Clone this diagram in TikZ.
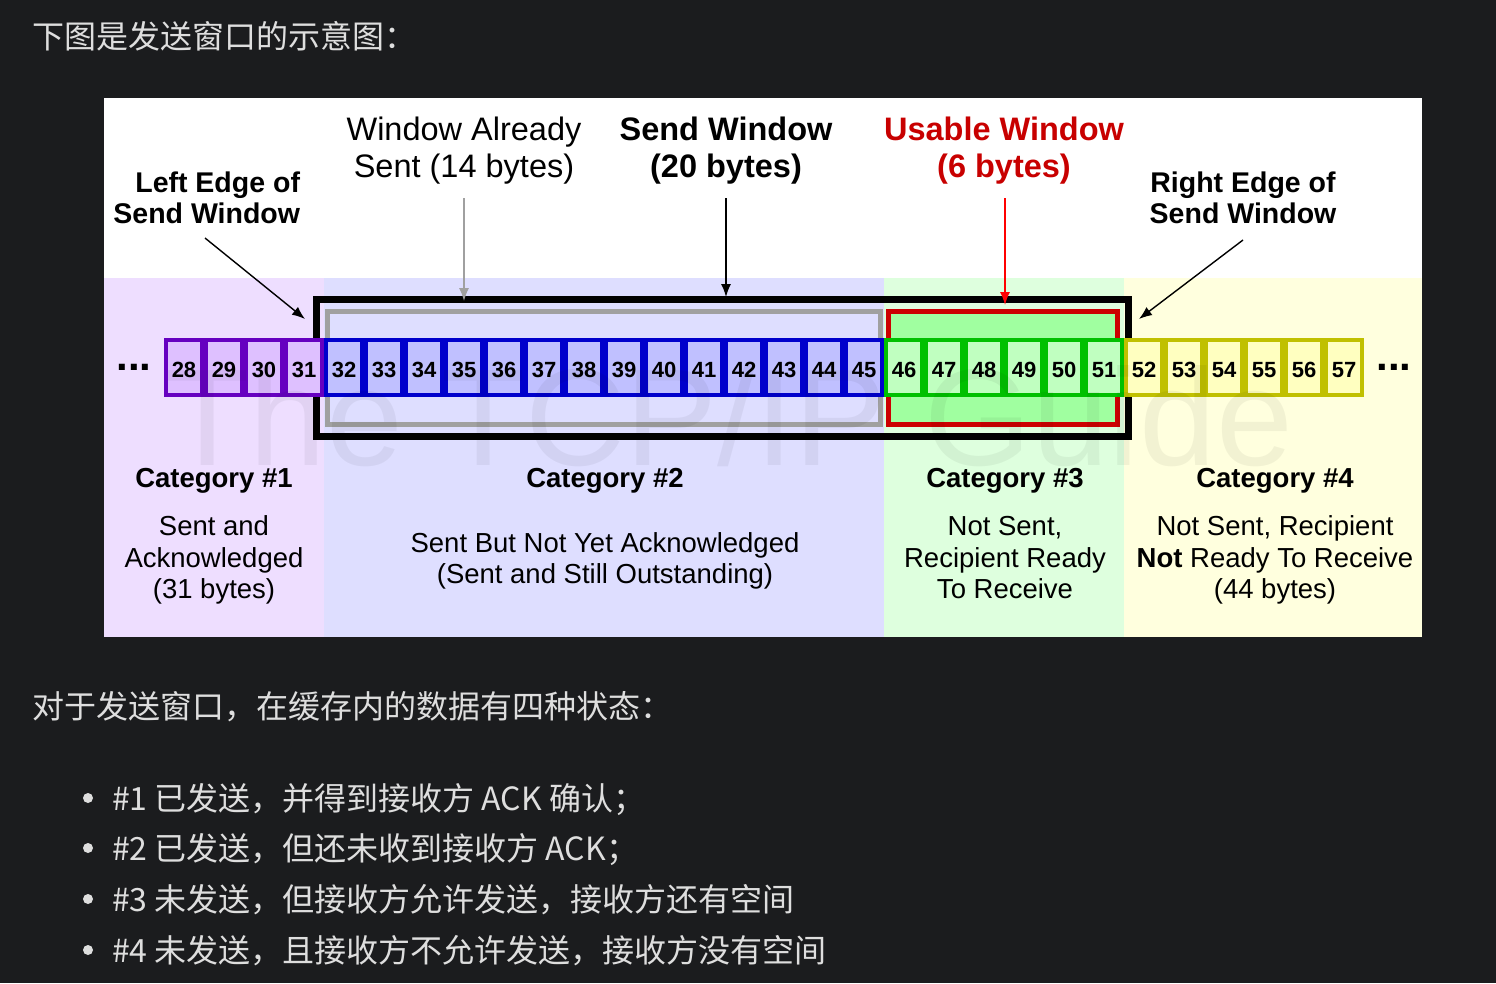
\documentclass[tikz,border=0pt]{standalone}
\usepackage{fontspec}
\setmainfont{Liberation Sans}
\newfontfamily\cjk{Noto Sans CJK SC}
\usetikzlibrary{arrows.meta}
\definecolor{pagebg}{RGB}{27,28,30}
\definecolor{pagetext}{RGB}{222,222,222}
\definecolor{bgA}{RGB}{238,222,255}
\definecolor{bgB}{RGB}{222,222,255}
\definecolor{bgC}{RGB}{222,255,222}
\definecolor{bgD}{RGB}{255,255,222}
\definecolor{lineA}{RGB}{102,0,192}
\definecolor{fillA}{RGB}{222,192,255}
\definecolor{lineB}{RGB}{0,0,204}
\definecolor{fillB}{RGB}{192,192,255}
\definecolor{lineC}{RGB}{0,192,0}
\definecolor{fillC}{RGB}{192,255,192}
\definecolor{lineD}{RGB}{192,192,0}
\definecolor{fillD}{RGB}{255,255,192}
\definecolor{usered}{RGB}{204,0,0}
\definecolor{usefill}{RGB}{160,255,160}
\definecolor{sentgray}{RGB}{160,160,160}
\definecolor{arrowred}{RGB}{255,0,0}
\definecolor{labelred}{RGB}{200,0,0}
\begin{document}
\begin{tikzpicture}[x=1pt,y=-1pt,
  every node/.style={inner sep=0pt,outer sep=0pt},
  cell/.style={draw, line width=4pt, minimum width=36pt, minimum height=55pt,
    font=\fontsize{22}{24}\selectfont\bfseries, text height=19pt, text depth=0pt},
  cellA/.style={cell, draw=lineA, fill=fillA},
  cellB/.style={cell, draw=lineB, fill=fillB},
  cellC/.style={cell, draw=lineC, fill=fillC},
  cellD/.style={cell, draw=lineD, fill=fillD},
  edgelbl/.style={font=\fontsize{28.5}{32}\selectfont\bfseries},
  titlereg/.style={font=\fontsize{32.5}{37}\selectfont, anchor=base},
  titlebold/.style={font=\fontsize{32.5}{37}\selectfont\bfseries, anchor=base},
  cathead/.style={font=\fontsize{27.5}{32}\selectfont\bfseries, anchor=base},
  cattext/.style={font=\fontsize{27.5}{32}\selectfont, anchor=base},
  dotsstyle/.style={font=\fontsize{42}{42}\selectfont\bfseries, anchor=base},
  pagetxt/.style={font=\cjk\fontsize{32}{38}\selectfont, text=pagetext, anchor=base west},
  ptr/.style={line width=1.4pt, -{Latex[length=13pt,width=10pt]}},
  bulletdot/.style={fill=pagetext}
]
\useasboundingbox (0,0) rectangle (1496,983);
\fill[pagebg] (0,0) rectangle (1496,983);

% page text
\node[pagetxt] (head) at (32,48) {下图是发送窗口的示意图：};
\node[pagetxt] (intro) at (32,718) {对于发送窗口，在缓存内的数据有四种状态：};
\fill[bulletdot] (88,798) circle (5);
\fill[bulletdot] (88,848) circle (5);
\fill[bulletdot] (88,899) circle (5);
\fill[bulletdot] (88,950) circle (5);
\node[pagetxt] (item1) at (112,810) {\#1 已发送，并得到接收方 ACK 确认；};
\node[pagetxt] (item2) at (112,860) {\#2 已发送，但还未收到接收方 ACK；};
\node[pagetxt] (item3) at (112,911) {\#3 未发送，但接收方允许发送，接收方还有空间};
\node[pagetxt] (item4) at (112,962) {\#4 未发送，且接收方不允许发送，接收方没有空间};

% panel and category backgrounds
\fill[white] (104,98) rectangle (1422,637);
\fill[bgA] (104,278) rectangle (324,637);
\fill[bgB] (324,278) rectangle (884,637);
\fill[bgC] (884,278) rectangle (1124,637);
\fill[bgD] (1124,278) rectangle (1422,637);

% window rectangles
\node[draw=black, line width=7pt, minimum width=812pt, minimum height=137pt] (sendwin) at (722,367.5) {};
\node[draw=sentgray, line width=5pt, minimum width=553pt, minimum height=113pt] (sentwin) at (603.5,367.5) {};
\node[draw=usered, fill=usefill, line width=5pt, minimum width=229pt, minimum height=113pt] (usewin) at (1002.5,367.5) {};

% byte cells
\foreach \n in {28,...,31} {\node[cellA] (c\n) at ({164+(\n-28)*40+20},367.5) {\n};}
\foreach \n in {32,...,45} {\node[cellB] (c\n) at ({164+(\n-28)*40+20},367.5) {\n};}
\foreach \n in {46,...,51} {\node[cellC] (c\n) at ({164+(\n-28)*40+20},367.5) {\n};}
\foreach \n in {52,...,57} {\node[cellD] (c\n) at ({164+(\n-28)*40+20},367.5) {\n};}
\node[dotsstyle] (dotsL) at (134,370) {...};
\node[dotsstyle] (dotsR) at (1394,370) {...};

% top labels
\node[edgelbl, anchor=base east] (leftA) at (300,192) {Left Edge of};
\node[edgelbl, anchor=base east] (leftB) at (300,223) {Send Window};
\node[titlereg] (sentA) at (464,140) {Window Already};
\node[titlereg] (sentB) at (464,177) {Sent (14 bytes)};
\node[titlebold] (sendA) at (726,140) {Send Window};
\node[titlebold] (sendB) at (726,177) {(20 bytes)};
\node[titlebold, text=labelred] (useA) at (1004,140) {Usable Window};
\node[titlebold, text=labelred] (useB) at (1004,177) {(6 bytes)};
\node[edgelbl, anchor=base] (rightA) at (1243,192) {Right Edge of};
\node[edgelbl, anchor=base] (rightB) at (1243,223) {Send Window};

% arrows
\coordinate (leftS) at (205,238);
\coordinate (leftE) at (305,319);
\coordinate (rightS) at (1243,240);
\coordinate (rightE) at (1139,319);
\coordinate (sentS) at (464,198);
\coordinate (sentE) at (464,301);
\coordinate (sendS) at (726,198);
\coordinate (sendE) at (726,297);
\coordinate (useS) at (1005,198);
\coordinate (useE) at (1005,305);
\draw[ptr] (leftS) -- (leftE);
\draw[ptr] (rightS) -- (rightE);
\draw[ptr, draw=sentgray, fill=sentgray] (sentS) -- (sentE);
\draw[ptr] (sendS) -- (sendE);
\draw[ptr, draw=arrowred, fill=arrowred] (useS) -- (useE);

% category texts
\node[cathead] (cat1) at (214,487) {Category \#1};
\node[cattext] (cat1a) at (214,535) {Sent and};
\node[cattext] (cat1b) at (214,567) {Acknowledged};
\node[cattext] (cat1c) at (214,598) {(31 bytes)};
\node[cathead] (cat2) at (605,487) {Category \#2};
\node[cattext] (cat2a) at (605,552) {Sent But Not Yet Acknowledged};
\node[cattext] (cat2b) at (605,583) {(Sent and Still Outstanding)};
\node[cathead] (cat3) at (1005,487) {Category \#3};
\node[cattext] (cat3a) at (1005,535) {Not Sent,};
\node[cattext] (cat3b) at (1005,567) {Recipient Ready};
\node[cattext] (cat3c) at (1005,598) {To Receive};
\node[cathead] (cat4) at (1275,487) {Category \#4};
\node[cattext] (cat4a) at (1275,535) {Not Sent, Recipient};
\node[cattext] (cat4b) at (1275,567) {\textbf{Not} Ready To Receive};
\node[cattext] (cat4c) at (1275,598) {(44 bytes)};

% watermark
\node[font=\fontsize{138}{140}\selectfont, text=black, text opacity=0.05, anchor=base east] (wmark) at (1293,465) {The TCP/IP Guide};
\end{tikzpicture}
\end{document}
